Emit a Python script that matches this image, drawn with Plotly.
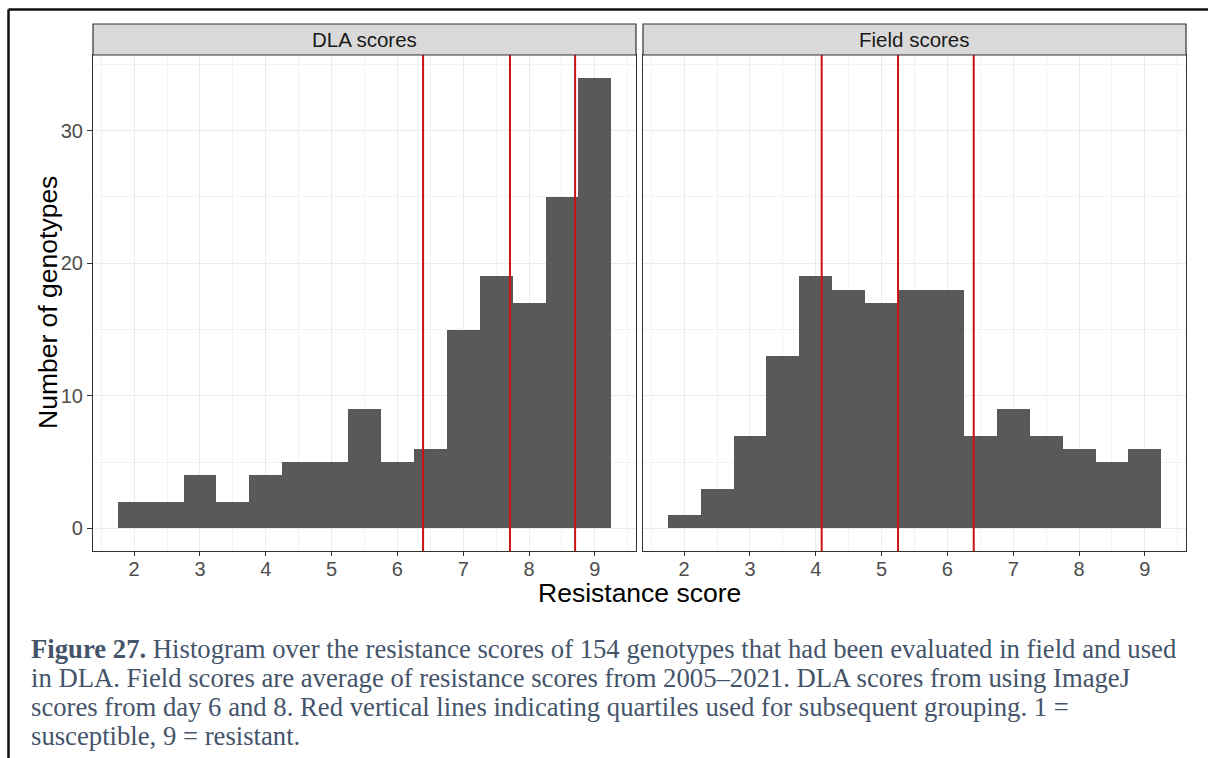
import plotly.graph_objects as go

# ---- data ----
bin_centers = [2.0, 2.5, 3.0, 3.5, 4.0, 4.5, 5.0, 5.5, 6.0, 6.5, 7.0, 7.5, 8.0, 8.5, 9.0]
dla_counts = [2, 2, 4, 2, 4, 5, 5, 9, 5, 6, 15, 19, 17, 25, 34]
field_counts = [1, 3, 7, 13, 19, 18, 17, 18, 18, 7, 9, 7, 6, 5, 6]
dla_quartiles = [6.39, 7.71, 8.70]
field_quartiles = [4.09, 5.25, 6.40]
panel_titles = ["DLA scores", "Field scores"]
x_ticks = [2, 3, 4, 5, 6, 7, 8, 9]
y_ticks = [0, 10, 20, 30]
caption_lines = [
    "<b>Figure 27.</b> Histogram over the resistance scores of 154 genotypes that had been evaluated in field and used",
    "in DLA. Field scores are average of resistance scores from 2005–2021. DLA scores from using ImageJ",
    "scores from day 6 and 8. Red vertical lines indicating quartiles used for subsequent grouping. 1 =",
    "susceptible, 9 = resistant.",
]

W, H = 1208, 758
def px(x):
    return x / W
def py(y):
    return 1 - y / H

SANS = "Liberation Sans, Arial, sans-serif"
SERIF = "Liberation Serif, Times New Roman, serif"
BAR = "#595959"
RED = "#cc1111"

fig = go.Figure()
fig.add_trace(go.Bar(x=bin_centers, y=dla_counts, width=0.5, marker=dict(color=BAR, line=dict(width=0)),
                     xaxis="x", yaxis="y", showlegend=False))
fig.add_trace(go.Bar(x=bin_centers, y=field_counts, width=0.5, marker=dict(color=BAR, line=dict(width=0)),
                     xaxis="x2", yaxis="y2", showlegend=False))

panel_top, panel_bot = 55, 551
strip_top = 24
panels = [(93, 636), (643, 1186)]

xcommon = dict(range=[1.375, 9.625], tickmode="array", tickvals=x_ticks,
               showgrid=True, gridcolor="#ebebeb", gridwidth=1.1,
               minor=dict(showgrid=True, gridcolor="#f2f2f2", gridwidth=0.6, dtick=0.5, tick0=1.5),
               ticks="outside", ticklen=4, tickwidth=1, tickcolor="#333333",
               tickfont=dict(family=SANS, size=20, color="#4d4d4d"), ticklabelstandoff=-4,
               showline=True, mirror=True, linecolor="#333333", linewidth=1.2,
               zeroline=False, fixedrange=True)
ycommon = dict(range=[-1.7, 35.7], tickmode="array", tickvals=y_ticks,
               showgrid=True, gridcolor="#ebebeb", gridwidth=1.1,
               minor=dict(showgrid=True, gridcolor="#f2f2f2", gridwidth=0.6, dtick=5, tick0=5),
               showline=True, mirror=True, linecolor="#333333", linewidth=1.2,
               zeroline=False, fixedrange=True, domain=[py(panel_bot), py(panel_top)])

fig.update_layout(
    width=W, height=H, margin=dict(l=0, r=0, t=0, b=0),
    paper_bgcolor="white", plot_bgcolor="white", bargap=0,
    xaxis=dict(xcommon, domain=[px(panels[0][0]), px(panels[0][1])], anchor="y"),
    xaxis2=dict(xcommon, domain=[px(panels[1][0]), px(panels[1][1])], anchor="y2"),
    yaxis=dict(ycommon, anchor="x", ticks="outside", ticklen=5, tickwidth=1, tickcolor="#333333",
               tickfont=dict(family=SANS, size=20, color="#4d4d4d")),
    yaxis2=dict(ycommon, anchor="x2", showticklabels=False, ticks=""),
)

shapes = []
annotations = []
# quartile lines
for xref, ydom, qs in [("x", "y domain", dla_quartiles), ("x2", "y2 domain", field_quartiles)]:
    for q in qs:
        shapes.append(dict(type="line", xref=xref, yref=ydom, x0=q, x1=q, y0=0, y1=1,
                           line=dict(color=RED, width=2), layer="above"))
# strips
for (l, r), title in zip(panels, panel_titles):
    shapes.append(dict(type="rect", xref="paper", yref="paper", x0=px(l), x1=px(r),
                       y0=py(panel_top), y1=py(strip_top), fillcolor="#d9d9d9",
                       line=dict(color="#333333", width=1.2)))
    annotations.append(dict(xref="paper", yref="paper", x=px((l + r) / 2), y=py((strip_top + panel_top) / 2),
                            text=title, showarrow=False, xanchor="center", yanchor="middle",
                            font=dict(family=SANS, size=20.5, color="#1a1a1a")))
# outer frame (top and left visible)
shapes.append(dict(type="line", xref="paper", yref="paper", x0=px(8.5), x1=px(1230), y0=py(9.5), y1=py(9.5),
                   line=dict(color="#111111", width=2.5)))
shapes.append(dict(type="line", xref="paper", yref="paper", x0=px(8.5), x1=px(8.5), y0=py(9.5), y1=py(790),
                   line=dict(color="#111111", width=2.5)))

# axis titles
annotations.append(dict(xref="paper", yref="paper", x=px(639.5), y=py(593), text="Resistance score",
                        showarrow=False, xanchor="center", yanchor="middle",
                        font=dict(family=SANS, size=26.5, color="#000000")))
annotations.append(dict(xref="paper", yref="paper", x=px(48), y=py(303), text="Number of genotypes",
                        showarrow=False, xanchor="center", yanchor="middle", textangle=-90,
                        font=dict(family=SANS, size=26.5, color="#000000")))
# caption
for i, line in enumerate(caption_lines):
    annotations.append(dict(xref="paper", yref="paper", x=px(29), y=py(649 + i * 29), text=line,
                            showarrow=False, xanchor="left", yanchor="middle",
                            font=dict(family=SERIF, size=26.7, color="#44546a")))

fig.update_layout(shapes=shapes, annotations=annotations)
fig.write_html("out.html")
